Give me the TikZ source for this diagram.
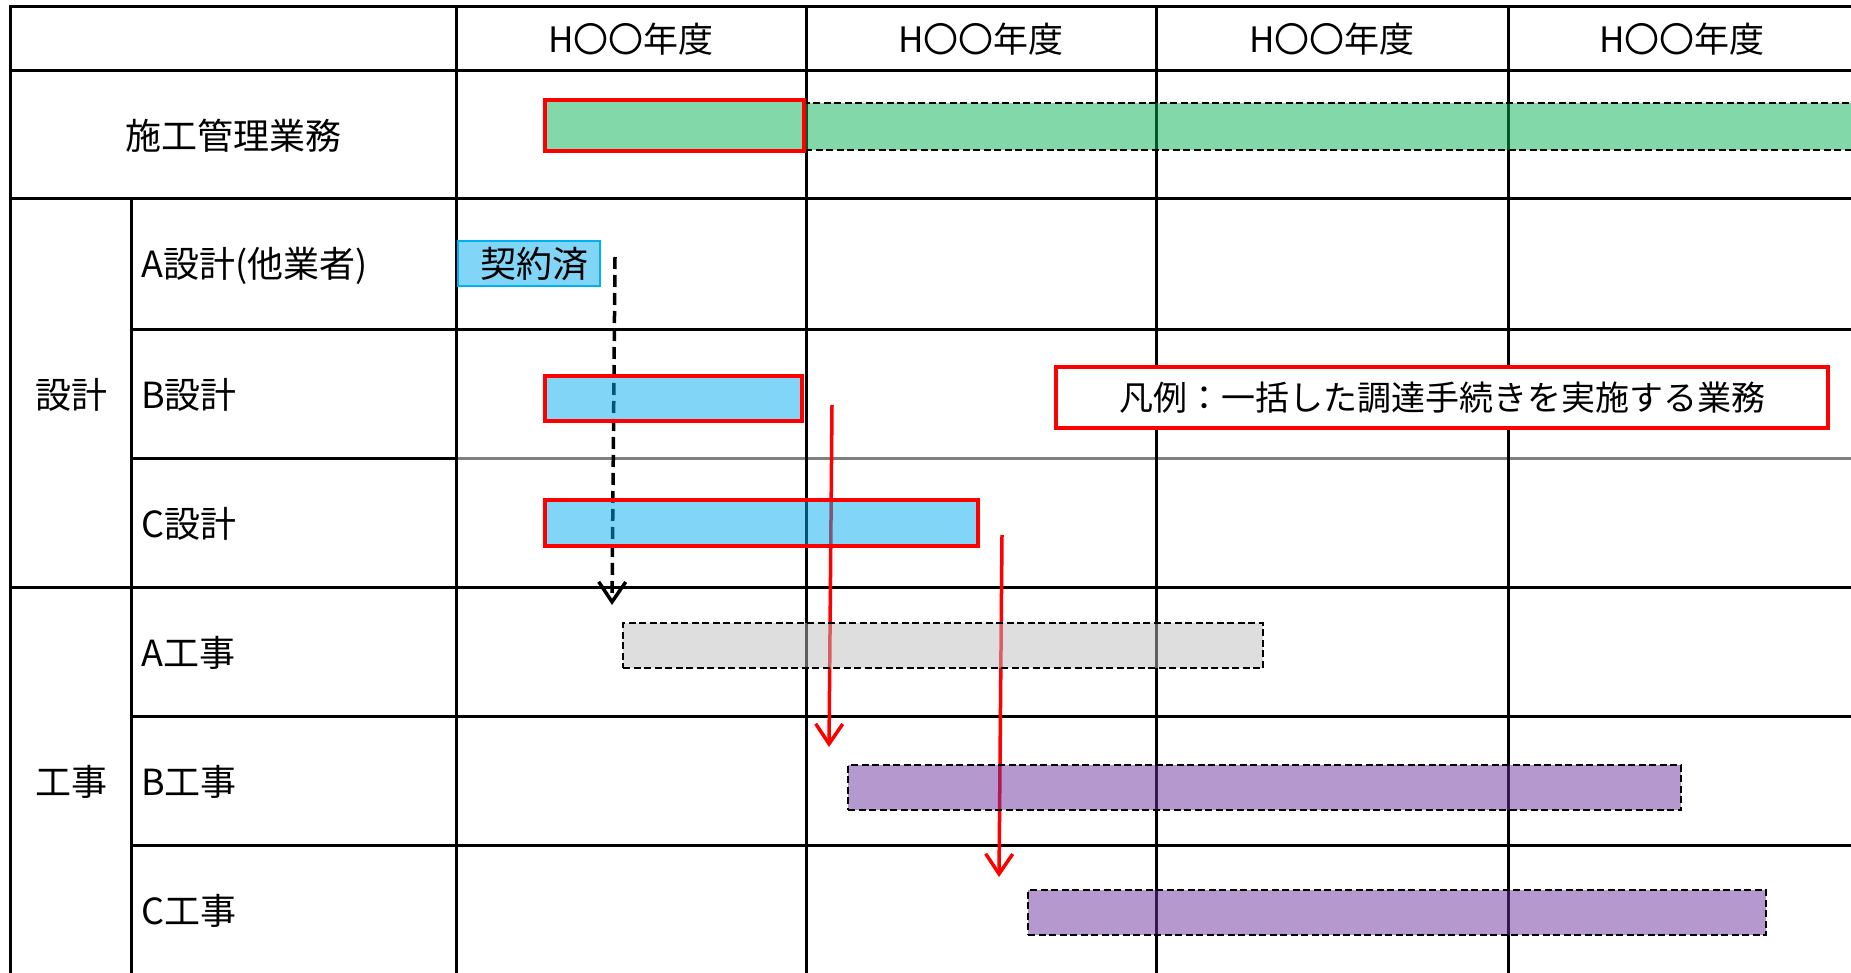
\documentclass[tikz,border=0pt]{standalone}
\usepackage{fontspec}
\usetikzlibrary{arrows.meta}
\newfontfamily\jpfont{Noto Sans CJK JP}
\definecolor{mgmtgreen}{RGB}{5,177,81}
\definecolor{designblue}{RGB}{3,173,239}
\definecolor{contractedge}{RGB}{0,176,240}
\definecolor{workgray}{RGB}{189,189,189}
\definecolor{workpurple}{RGB}{105,49,157}
\tikzset{
  cell/.style={font=\jpfont\fontsize{36}{40}\selectfont, inner sep=0pt},
  tableline/.style={line width=3pt, line cap=rect},
  bar/.style={inner sep=0pt, fill opacity=0.5, text opacity=1},
  redbar/.style={bar, draw=red, line width=4pt},
  planbar/.style={bar, draw=black, line width=2.5pt, dash pattern=on 7pt off 3.5pt},
  flow/.style={line width=3.5pt, -{Straight Barb[length=20pt,width=27pt]}}
}

\begin{document}
\begin{tikzpicture}[x=1pt,y=-1pt]
\useasboundingbox (0,0) rectangle (1851,973);

% Table rules
\draw[tableline] (10,7) -- (1851,7)
    (10,71) -- (1851,71)
    (10,199) -- (1851,199)
    (10,587) -- (1851,587);
\foreach \y in {329,716,845}
    \draw[tableline] (131,\y) -- (1851,\y);
\draw[tableline] (131,458) -- (456,458);
\draw[tableline, gray] (456,458) -- (1851,458);
\draw[tableline] (10,7) -- (10,973)
    (131,199) -- (131,973);
\foreach \x in {456,806,1156,1508}
    \draw[tableline] (\x,7) -- (\x,973);

% Year headers
\foreach \x [count=\i] in {631,981,1332,1682}
    \node[cell, font=\jpfont\fontsize{35}{40}\selectfont] (year\i) at (\x,39) {H〇〇年度};

% Row labels
\node[cell] (mgmt) at (233,136) {施工管理業務};
\node[cell] (design) at (71,395) {設計};
\node[cell] (work) at (71,782) {工事};
\node[cell, anchor=west] (aDesignLbl) at (141,266) {A設計(他業者)};
\node[cell, anchor=west] (bDesignLbl) at (141,395) {B設計};
\node[cell, anchor=west] (cDesignLbl) at (141,524) {C設計};
\node[cell, anchor=west] (aWorkLbl) at (141,653) {A工事};
\node[cell, anchor=west] (bWorkLbl) at (141,782) {B工事};
\node[cell, anchor=west] (cWorkLbl) at (141,911) {C工事};

% Arrows
\coordinate (aFrom) at (615,257);
\coordinate (aTo) at (612,605);
\coordinate (bFrom) at (832,405);
\coordinate (bTo) at (829,747);
\coordinate (cFrom) at (1002,535);
\coordinate (cTo) at (999,877);
\draw[flow, dash pattern=on 12pt off 6pt] (aFrom) -- (aTo);
\draw[flow, red] (bFrom) -- (bTo);
\draw[flow, red] (cFrom) -- (cTo);

% Bars
\node[planbar, fill=mgmtgreen, minimum width=1055pt, minimum height=47pt] (mgmtPlan) at (1332.5,126.5) {};
\node[redbar, fill=mgmtgreen, minimum width=259pt, minimum height=51pt] (mgmtBar) at (674.5,125.5) {};
\node[bar, draw=contractedge, line width=2pt, fill=designblue,
    minimum width=142pt, minimum height=45pt,
    font=\jpfont\fontsize{36}{40}\selectfont] (aDesignBar) at (529,263.5) {\hspace{10pt}契約済};
\node[redbar, fill=designblue, minimum width=257pt, minimum height=45pt] (bDesignBar) at (673.5,398.5) {};
\node[redbar, fill=designblue, minimum width=433pt, minimum height=46pt] (cDesignBar) at (761.5,523) {};
\node[planbar, fill=workgray, minimum width=640pt, minimum height=45pt] (aWorkBar) at (943,645.5) {};
\node[planbar, fill=workpurple, minimum width=833pt, minimum height=45pt] (bWorkBar) at (1264.5,787.5) {};
\node[planbar, fill=workpurple, minimum width=738pt, minimum height=45pt] (cWorkBar) at (1397,912.5) {};

% Legend
\node[cell, draw=red, line width=4pt, fill=white,
    minimum width=772pt, minimum height=61pt,
    font=\jpfont\fontsize{34}{40}\selectfont] (legend) at (1442,397.5) {凡例：一括した調達手続きを実施する業務};

\end{tikzpicture}
\end{document}
